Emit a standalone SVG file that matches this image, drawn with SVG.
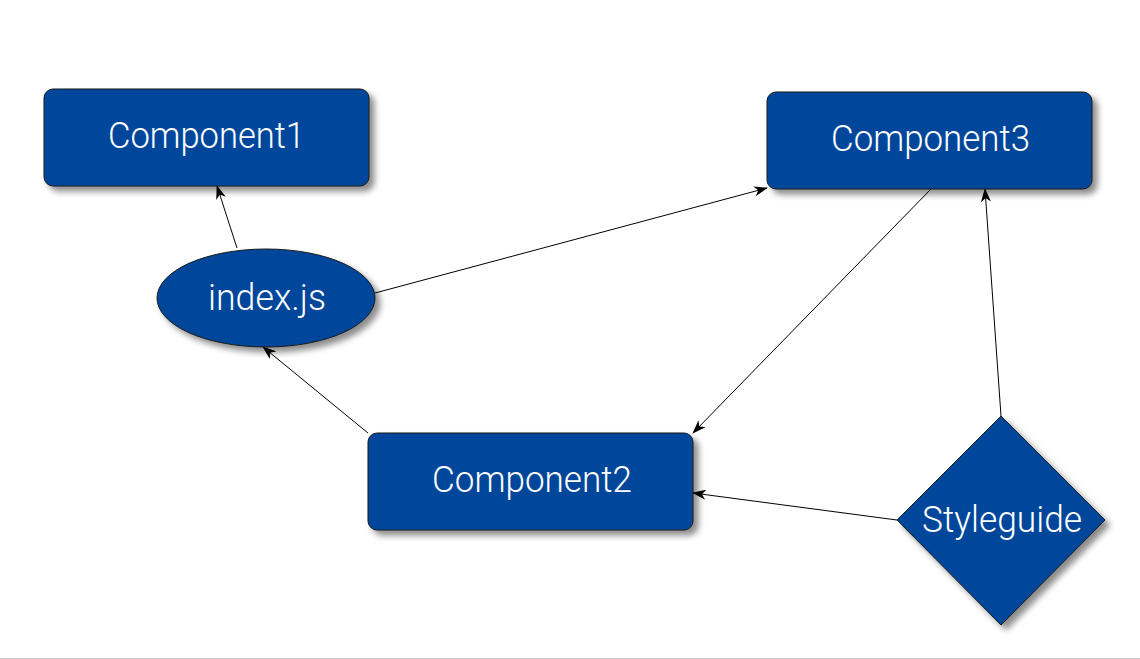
<svg xmlns="http://www.w3.org/2000/svg" width="1140" height="659" viewBox="0 0 1140 659">
<style>
.n{fill:#00479b;stroke:#1a1a1a;stroke-width:1;filter:url(#sh)}
.t{font-family:Roboto,"Liberation Sans",sans-serif;font-weight:300;font-size:37px;fill:#fff;text-anchor:middle}
.e{stroke:#000;stroke-width:1;fill:none;marker-end:url(#ah)}
</style>
<defs>
<filter id="sh" x="-20%" y="-20%" width="150%" height="150%">
<feDropShadow dx="5" dy="5" stdDeviation="3" flood-color="#000" flood-opacity="0.45"/>
</filter>
<marker id="ah" viewBox="0 0 14 10" refX="13" refY="5" markerWidth="14" markerHeight="10" markerUnits="userSpaceOnUse" orient="auto">
<path d="M0,0 L14,5 L0,10 L4,5 Z" fill="#000"/>
</marker>
</defs>
<rect width="1140" height="659" fill="#fff"/>
<line x1="0" y1="658.5" x2="1140" y2="658.5" stroke="#ccc" stroke-width="1"/>
<g id="connectors">
<line class="e" x1="237" y1="248" x2="217" y2="186"/>
<line class="e" x1="375" y1="293" x2="767" y2="188"/>
<line class="e" x1="368" y1="433" x2="263" y2="347"/>
<line class="e" x1="931" y1="189" x2="693" y2="433"/>
<line class="e" x1="1001" y1="416" x2="985" y2="189"/>
<line class="e" x1="897" y1="520" x2="693" y2="493"/>
</g>
<g id="component1">
<rect class="n" x="44" y="89" width="325" height="97" rx="9"/>
<text class="t" x="206.5" y="148" textLength="197" lengthAdjust="spacingAndGlyphs">Component1</text>
</g>
<g id="component3">
<rect class="n" x="767" y="92" width="325" height="97" rx="9"/>
<text class="t" x="930.5" y="151" textLength="199" lengthAdjust="spacingAndGlyphs">Component3</text>
</g>
<g id="component2">
<rect class="n" x="368" y="433" width="325" height="97" rx="9"/>
<text class="t" x="532" y="492" textLength="200" lengthAdjust="spacingAndGlyphs">Component2</text>
</g>
<g id="indexjs">
<ellipse class="n" cx="266" cy="298" rx="109" ry="49"/>
<text class="t" x="267" y="310" textLength="118" lengthAdjust="spacingAndGlyphs">index.js</text>
</g>
<g id="styleguide">
<polygon class="n" points="1001,416 1105,520 1001,625 897,520"/>
<text class="t" x="1002" y="532" textLength="160" lengthAdjust="spacingAndGlyphs">Styleguide</text>
</g>
</svg>
